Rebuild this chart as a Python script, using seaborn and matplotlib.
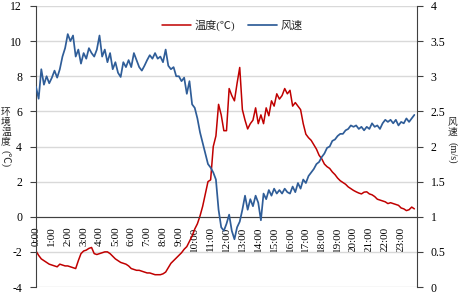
import numpy as np
import pandas as pd
import matplotlib
matplotlib.use("Agg")
import matplotlib.pyplot as plt
import seaborn as sns

# ---- data (10-minute samples, 0:00 .. 23:50) ----
temperature = [
    -1.95, -2.2, -2.4, -2.5, -2.6, -2.7,
    -2.75, -2.8, -2.85, -2.7, -2.75, -2.8,
    -2.8, -2.85, -2.9, -2.95, -2.5, -2.1,
    -1.95, -1.9, -1.8, -1.75, -2.1, -2.15,
    -2.1, -2.05, -2.0, -2.0, -2.1, -2.25,
    -2.4, -2.5, -2.6, -2.65, -2.7, -2.8,
    -2.95, -3.0, -3.05, -3.05, -3.1, -3.15,
    -3.2, -3.2, -3.25, -3.3, -3.3, -3.3,
    -3.25, -3.15, -2.9, -2.65, -2.5, -2.35,
    -2.2, -2.05, -1.85, -1.7, -1.4, -1.1,
    -0.7, -0.4, 0.05, 0.6, 1.3, 2.0,
    2.1, 4.0, 4.6, 6.4, 5.8, 4.9,
    4.9, 7.3, 6.9, 6.6, 7.6, 8.5,
    6.1, 5.5, 5.0, 5.3, 5.5, 6.2,
    5.3, 5.8, 5.3, 6.2, 5.75, 6.6,
    6.3, 7.0, 6.7, 6.9, 7.3, 7.0,
    7.2, 6.3, 6.5, 6.3, 6.1, 5.3,
    4.7, 4.5, 4.35, 4.1, 3.85, 3.5,
    3.3, 3.0, 2.85, 2.75, 2.55, 2.4,
    2.2, 2.05, 1.95, 1.85, 1.7, 1.6,
    1.5, 1.42, 1.35, 1.3, 1.4, 1.42,
    1.3, 1.25, 1.15, 1.0, 0.95, 0.9,
    0.85, 0.75, 0.8, 0.75, 0.7, 0.65,
    0.5, 0.45, 0.35, 0.4, 0.55, 0.45,
]

wind_speed = [
    2.85, 2.68, 3.10, 2.88, 3.00, 2.90,
    2.98, 3.08, 2.98, 3.10, 3.28, 3.40,
    3.60, 3.50, 3.58, 3.28, 3.38, 3.18,
    3.33, 3.25, 3.40, 3.33, 3.28, 3.38,
    3.58, 3.28, 3.38, 3.20, 3.33, 3.10,
    3.20, 3.05, 2.99, 3.20, 3.13, 3.23,
    3.13, 3.33, 3.23, 3.13, 3.08, 3.15,
    3.23, 3.30, 3.25, 3.33, 3.25, 3.28,
    3.20, 3.38, 3.15, 3.10, 3.13, 3.00,
    3.00, 2.93, 2.98, 2.75, 2.93, 2.60,
    2.55, 2.40, 2.20, 2.05, 1.90, 1.75,
    1.70, 1.63, 1.53, 1.10, 0.85, 0.80,
    0.90, 1.03, 0.80, 0.68, 0.85, 0.93,
    1.10, 1.30, 1.10, 1.25, 1.15, 1.30,
    1.20, 0.95, 1.33, 1.25, 1.38, 1.30,
    1.40, 1.33, 1.38, 1.33, 1.40, 1.35,
    1.33, 1.43, 1.35, 1.48, 1.40, 1.53,
    1.48, 1.58, 1.63, 1.68, 1.75, 1.78,
    1.85, 1.90, 1.98, 2.00, 2.08, 2.10,
    2.15, 2.18, 2.18, 2.23, 2.25, 2.30,
    2.28, 2.30, 2.25, 2.28, 2.23, 2.28,
    2.25, 2.33, 2.28, 2.30, 2.25, 2.33,
    2.38, 2.35, 2.38, 2.33, 2.38, 2.30,
    2.35, 2.33, 2.40, 2.35, 2.40, 2.45,
]

hour_labels = [f"{h}:00" for h in range(24)]
temp_ticks = [-4, -2, 0, 2, 4, 6, 8, 10, 12]
wind_ticks = [0, 0.5, 1, 1.5, 2, 2.5, 3, 3.5, 4]
wind_tick_labels = ["0", "0.5", "1", "1.5", "2", "2.5", "3", "3.5", "4"]

n = min(len(temperature), len(wind_speed))
df = pd.DataFrame({
    "hour": np.arange(n) / 6.0,
    "temp": temperature[:n],
    "wind": wind_speed[:n],
})

# ---- style ----
sns.set_style("white")
plt.rcParams["font.family"] = ["Liberation Serif", "Noto Sans CJK SC"]
plt.rcParams["axes.unicode_minus"] = False

RED = "#C00000"
BLUE = "#2F5D98"
AXC = "#404040"

fig = plt.figure(figsize=(4.58, 2.92), dpi=100)
ax = fig.add_axes([36 / 458, 1 - 287 / 292, (417 - 36) / 458, (287 - 6) / 292])
ax2 = ax.twinx()

sns.lineplot(data=df, x="hour", y="temp", ax=ax, color=RED, lw=1.1, label="温度(℃)", legend=False)
sns.lineplot(data=df, x="hour", y="wind", ax=ax2, color=BLUE, lw=1.25, label="风速", legend=False)

ax.set_xlim(0, 24)
ax.set_ylim(-4, 12)
ax2.set_ylim(0, 4)
ax.set_xlabel("")
ax.set_ylabel("")
ax2.set_ylabel("")

ax.set_yticks(temp_ticks)
ax.set_yticklabels([str(t) for t in temp_ticks], fontsize=8.5)
ax2.set_yticks(wind_ticks)
ax2.set_yticklabels(wind_tick_labels, fontsize=8.5)

ax.set_xticks(range(24))
ax.set_xticklabels(hour_labels, fontsize=8)

ax.yaxis.grid(True, color="#D9D9D9", lw=1.0)
ax.xaxis.grid(False)
ax.set_axisbelow(True)

for s in ["top", "right"]:
    ax.spines[s].set_visible(False)
ax.spines["bottom"].set_position(("data", 0))
ax.spines["bottom"].set_color(AXC)
ax.spines["left"].set_color(AXC)
for s in ["top", "left", "bottom"]:
    ax2.spines[s].set_visible(False)
ax2.spines["right"].set_color(AXC)

ax.tick_params(axis="x", direction="in", length=3, color=AXC, pad=7,
               labelcolor="black", labelrotation=90, labelsize=8)
ax.tick_params(axis="y", direction="out", length=4, color=AXC, pad=6, labelcolor="black", left=True)
ax2.tick_params(axis="y", direction="out", length=4, color=AXC, pad=6, labelcolor="black", right=True)
for t in ax.get_xticklabels():
    t.set_rotation(90)
    t.set_va("top")
    t.set_ha("center")

# legend
h1, l1 = ax.get_legend_handles_labels()
h2, l2 = ax2.get_legend_handles_labels()
leg = ax2.legend(h1 + h2, l1 + l2, loc="center", bbox_to_anchor=(0.515, 0.932),
                 ncol=2, frameon=False, fontsize=8, handlelength=2.6,
                 columnspacing=1.2, handletextpad=0.3)

# axis titles (vertical stacked text)
def fy(py):
    return 1 - py / 292

for ch, py in zip("环境温度", [112, 122, 132, 142]):
    fig.text(6 / 458, fy(py), ch, ha="center", va="center", fontsize=7)
fig.text(6 / 458, fy(158.5), "(℃)", ha="center", va="center", rotation=270, fontsize=7.5)

for ch, py in zip("风速", [122.5, 132.5]):
    fig.text(452 / 458, fy(py), ch, ha="center", va="center", fontsize=7)
fig.text(452 / 458, fy(153), "(m/s)", ha="center", va="center", rotation=270, fontsize=7.5)

fig.savefig("out.png", dpi=100)
